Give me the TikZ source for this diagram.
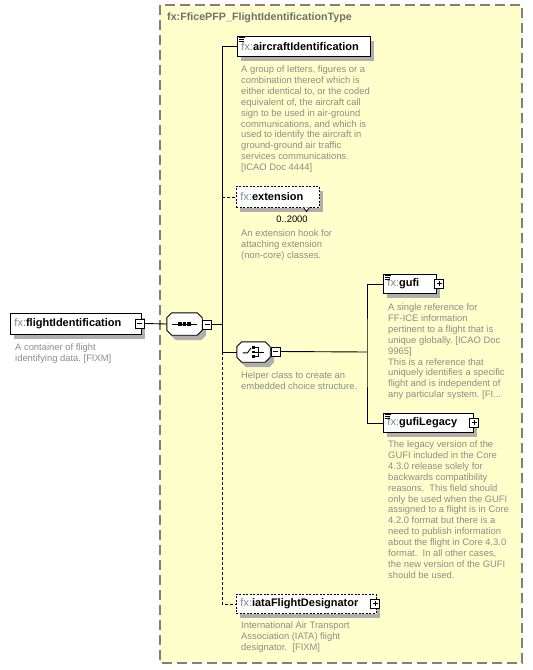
\documentclass[tikz,border=0pt]{standalone}
\usepackage{fontspec}
\setmainfont{Liberation Sans}
\definecolor{bgyellow}{RGB}{255,255,204}
\definecolor{descgray}{RGB}{140,140,140}
\definecolor{fxgray}{RGB}{125,135,150}
\definecolor{titlegray}{RGB}{112,112,112}
\definecolor{shadowgray}{RGB}{175,175,175}
\definecolor{framegray}{RGB}{128,128,128}
\newcommand{\fxname}[1]{{\color{fxgray}fx:}\textbf{#1}}
\newcommand{\octpath}[2]{\path[#2] ([xshift=5pt]#1.north west) -- ([xshift=-5pt]#1.north east) -- ([yshift=-5pt]#1.north east) -- ([yshift=5pt]#1.south east) -- ([xshift=-5pt]#1.south east) -- ([xshift=5pt]#1.south west) -- ([yshift=5pt]#1.south west) -- ([yshift=-5pt]#1.north west) -- cycle;}
% shadow strips right of and below a box: left, top, right, bottom
\newcommand{\boxshade}[4]{\fill[shadowgray] (#3+0.5,#2+5) rectangle (#3+4,#4+5); \fill[shadowgray] (#1+4,#4+0.5) rectangle (#3+4,#4+5);}
\frenchspacing
\begin{document}
\begin{tikzpicture}[x=1pt,y=-1pt,
  elem/.style={draw=black,fill=white,line width=0.9pt,inner xsep=4pt,inner ysep=0pt,
     anchor=north west,align=left,font=\fontsize{11}{13}\selectfont},
  optelem/.style={elem,dash pattern=on 2pt off 1.5pt},
  desc/.style={anchor=north west,inner sep=0pt,align=left,text=descgray,
     font=\fontsize{9.4}{10.9}\selectfont},
  conn/.style={draw=black,line width=0.9pt},
  optconn/.style={conn,dash pattern=on 3pt off 2pt},
  glyph/.style={black,line width=0.9pt},
  shadowfill/.style={fill=shadowgray,draw=none},
  minusbox/.style={draw=black,fill=white,line width=0.8pt,minimum size=9pt,inner sep=0pt,
     path picture={\draw[black,line width=0.8pt] ([xshift=2pt]path picture bounding box.west) -- ([xshift=-2pt]path picture bounding box.east);}},
  plusbox/.style={draw=black,fill=white,line width=0.8pt,minimum size=9pt,inner sep=0pt,
     path picture={\draw[black,line width=0.8pt] ([xshift=2pt]path picture bounding box.west) -- ([xshift=-2pt]path picture bounding box.east);
       \draw[black,line width=0.8pt] ([yshift=2pt]path picture bounding box.south) -- ([yshift=-2pt]path picture bounding box.north);}},
  octnode/.style={inner sep=0pt}
]
\useasboundingbox (0,0) rectangle (533,670);

% type container
\draw[fill=bgyellow,draw=framegray,line width=1.3pt,dash pattern=on 10pt off 5pt] (160,5) rectangle (522,663);
\node[anchor=west,inner sep=0pt,text=titlegray,font=\fontsize{10.7}{12}\selectfont\bfseries] (title) at (167,18) {fx:FficePFP\_FlightIdentificationType};

% root element
\node[elem,minimum width=131pt,minimum height=21pt,text width=123pt] (fi) at (10,313) {\fxname{flightIdentification}};
\boxshade{10}{313}{141}{334}
\node[minusbox] (fim) at (139.8,323.5) {};
\node[desc] (fid) at (15,343.5) {A container of flight\\identifying data. [FIXM]};

% sequence compositor
\node[octnode,minimum width=35pt,minimum height=22pt] (seq) at (184.5,324) {};
\octpath{seq}{shadowfill,transform canvas={shift={(4pt,-5pt)}}}
\octpath{seq}{draw=black,fill=white,line width=0.9pt}
\draw[glyph,line width=1pt] ([xshift=-12.5pt]seq.center) -- ([xshift=12.5pt]seq.center);
\foreach \dx in {-4.5,0,4.5}{\fill[black] ([xshift=\dx pt]seq.center) +(-1.7pt,-1.7pt) rectangle +(1.7pt,1.7pt);}
\node[minusbox] (seqm) at (207,324.5) {};

% children
\node[elem,minimum width=133pt,minimum height=20pt,text width=125pt] (air) at (237,36) {\fxname{aircraftIdentification}};
\boxshade{237}{36}{370}{56}
\node[desc] (aird) at (241,65.5) {A group of letters, figures or a\\combination thereof which is\\either identical to, or the coded\\equivalent of, the aircraft call\\sign to be used in air-ground\\communications, and which is\\used to identify the aircraft in\\ground-ground air traffic\\services communications.\\{}[ICAO Doc 4444]};

\node[optelem,minimum width=83pt,minimum height=21pt,text width=75pt] (ext) at (236,186) {\fxname{extension}};
\boxshade{236}{186}{319}{207}
\draw[black,fill=white,line width=0.8pt] (303.5,207.3) -- (306.5,211.5) -- (309.5,207.3);
\node[anchor=center,inner sep=0pt,font=\fontsize{9.4}{11}\selectfont] (extocc) at (292,219) {0..2000};
\node[desc] (extd) at (241,229.5) {An extension hook for\\attaching extension\\(non-core) classes.};

% choice compositor
\node[octnode,minimum width=33pt,minimum height=20pt] (ch) at (253.5,352) {};
\octpath{ch}{shadowfill,transform canvas={shift={(4pt,-5pt)}}}
\octpath{ch}{draw=black,fill=white,line width=0.9pt}
\draw[glyph] ([xshift=-11pt,yshift=-0.8pt]ch.center) -- ([xshift=-6pt,yshift=-0.8pt]ch.center) -- ([xshift=-2.5pt,yshift=4pt]ch.center);
\foreach \dy in {-4.3,0,4.3}{\fill[black] ([yshift=\dy pt]ch.center) +(-1.3pt,-1.3pt) rectangle +(1.3pt,1.3pt);}
\draw[glyph] ([xshift=1.3pt,yshift=4.3pt]ch.center) -- ([xshift=5pt,yshift=4.3pt]ch.center) -- ([xshift=5pt,yshift=-4.3pt]ch.center) -- ([xshift=1.3pt,yshift=-4.3pt]ch.center);
\draw[glyph] ([xshift=1.3pt]ch.center) -- ([xshift=10.5pt]ch.center);
\node[minusbox] (chm) at (275.5,351.5) {};
\node[desc] (chd) at (241,371.5) {Helper class to create an\\embedded choice structure.};

\node[elem,minimum width=53pt,minimum height=19pt,text width=45pt] (gufi) at (383,274) {\fxname{gufi}};
\boxshade{383}{274}{436}{293}
\node[plusbox] (gufip) at (439,283.5) {};
\node[desc] (gufid) at (388,303.5) {A single reference for\\FF-ICE information\\pertinent to a flight that is\\unique globally. [ICAO Doc\\9965]\\This is a reference that\\uniquely identifies a specific\\flight and is independent of\\any particular system. [FI...};

\node[elem,minimum width=90pt,minimum height=19pt,text width=82pt] (gl) at (383,413) {\fxname{gufiLegacy}};
\boxshade{383}{413}{473}{432}
\node[plusbox] (glp) at (474,422.5) {};
\node[desc] (gld) at (388,440.5) {The legacy version of the\\GUFI included in the Core\\4.3.0 release solely for\\backwards compatibility\\reasons.~ This field should\\only be used when the GUFI\\assigned to a flight is in Core\\4.2.0 format but there is a\\need to publish information\\about the flight in Core 4.3.0\\format.~ In all other cases,\\the new version of the GUFI\\should be used.};

\node[optelem,minimum width=140pt,minimum height=19pt,text width=132pt] (iata) at (236,594) {\fxname{iataFlightDesignator}};
\boxshade{236}{594}{376}{613}
\node[plusbox] (iatap) at (375,603.5) {};
\node[desc] (iatad) at (241,621.5) {International Air Transport\\Association (IATA) flight\\designator.~ [FIXM]};

% documentation markers
\foreach \px/\py in {237/36, 383/274, 383/413}{
  \draw[black,line width=0.8pt] (\px+1.5,\py+1.5) -- ++(6,0) (\px+1.5,\py+3.5) -- ++(5,0) (\px+1.5,\py+5.5) -- ++(5,0);
}

% connectors
\coordinate (tc) at (222,352);
\coordinate (gc) at (367,352);
\draw[conn] (fim.east) -- (seq.west);
\draw[conn] (seqm.east) -- (seqm.east -| tc);
\draw[conn] (air.west) -| (tc);
\draw[conn] (tc) -- (ch.west);
\draw[optconn] (tc) |- (iata.west);
\draw[optconn] (ext.west -| tc) -- (ext.west);
\draw[conn] (chm.east) -- (gc);
\draw[conn] (gufi.west) -| (gc) |- (gl.west);
\end{tikzpicture}
\end{document}
